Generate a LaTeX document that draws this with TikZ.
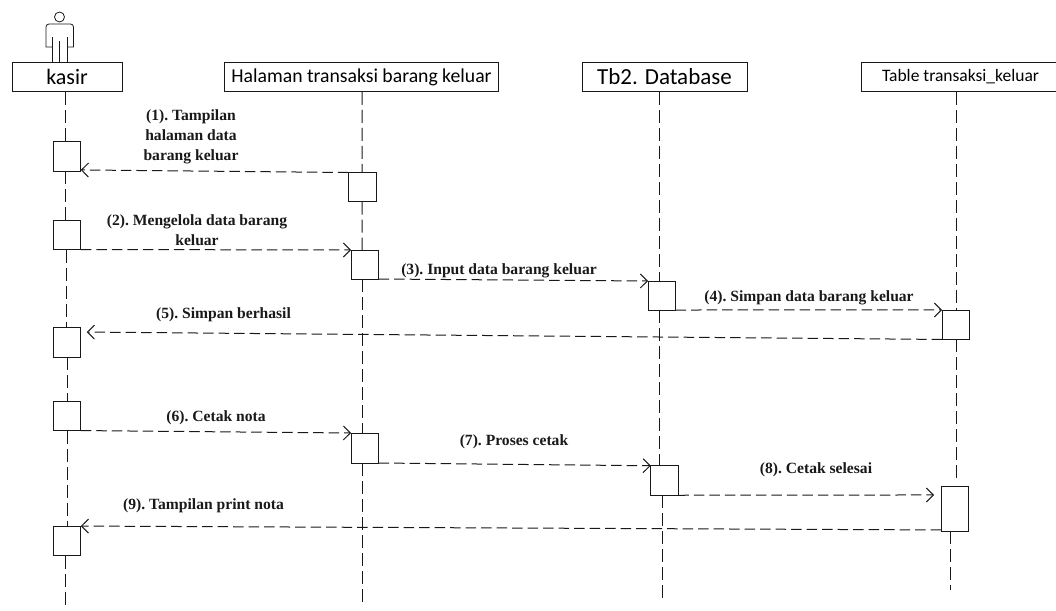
\documentclass[tikz,border=0pt]{standalone}
\usepackage{fontspec}
\setmainfont{Liberation Serif}
\newfontfamily\hdfont{Carlito}
\usetikzlibrary{arrows.meta,calc}
\definecolor{ink}{gray}{0.1}
\tikzset{
  x=1pt,y=-1pt,
  head/.style={draw=ink,line width=0.9pt,inner sep=0pt,outer sep=0pt,minimum height=29.5pt,text=black},
  act/.style={draw=ink,line width=0.9pt,fill=white,inner sep=0pt,outer sep=0pt,minimum width=27.5pt},
  life/.style={draw=ink,line width=1pt,dash pattern=on 13pt off 5pt},
  msg/.style={draw=ink,line width=1pt,dash pattern=on 10.5pt off 5pt,-{Straight Barb[length=7pt,width=14pt,line width=1pt]}},
  lbl/.style={font=\bfseries\frenchspacing\fontsize{15.6}{20}\selectfont,align=center,inner sep=0pt,text=ink,yshift=-1.7pt},
  fig/.style={ink,line width=0.8pt},
}
\begin{document}
\begin{tikzpicture}
\useasboundingbox (0,0) rectangle (1056,610);
% headers
\node[head,minimum width=110pt,font=\hdfont\fontsize{22}{26}\selectfont] (hk) at (67,77) {kasir};
\node[head,minimum width=274pt,font=\hdfont\fontsize{19.7}{24}\selectfont] (hh) at (361.5,77) {Halaman transaksi barang keluar};
\node[head,minimum width=165pt,font=\hdfont\fontsize{23}{26}\selectfont] (hd) at (664.5,77) {Tb2. Database};
\node[head,minimum width=199pt,font=\hdfont\fontsize{17.5}{20}\selectfont] (ht) at (960.5,77) {Table transaksi\_keluar};
% actor
\node[draw=ink,circle,line width=0.8pt,minimum size=10pt,inner sep=0pt,outer sep=0pt] (ah) at (59.5,17) {};
\coordinate (al) at (52,62);
\coordinate (ar) at (67.5,62);
\coordinate (ac) at (59.5,62);
\draw[fig] (al) -- (52,37);
\draw[fig] (52,47) -- (46,47) -- (46,27) to[out=90,in=180] (49,24) -- (70.5,24) to[out=0,in=90] (73.5,27) -- (73.5,47) -- (67.5,47);
\draw[fig] (ar) -- (67.5,37);
\draw[fig] (ac) -- (59.5,41);
% activations
\node[act,minimum height=29.5pt] (a1) at (67,156.2) {};
\node[act,minimum height=29pt] (a2) at (67,235) {};
\node[act,minimum height=29.5pt] (a5) at (67,342.5) {};
\node[act,minimum height=29.5pt] (a6) at (67,415.8) {};
\node[act,minimum height=29.5pt] (a9) at (67,540.8) {};
\node[act,minimum height=29pt] (b1) at (362.2,187) {};
\node[act,minimum height=29pt] (b2) at (364.8,264.5) {};
\node[act,minimum height=30pt] (b6) at (364.8,448) {};
\node[act,minimum height=29pt] (c3) at (661.8,295.5) {};
\node[act,minimum height=29.5pt] (c7) at (664.5,480.5) {};
\node[act,minimum height=29.5pt] (d4) at (955.8,324.7) {};
\node[act,minimum height=44.3pt] (d8) at (954.8,508.8) {};
% lifeline ends
\coordinate (ke) at (65,605);
\coordinate (he) at (362,602);
\coordinate (de) at (662,600);
\coordinate (te) at (950,590);
% lifelines
\draw[life] ([xshift=-2pt]hk.south) -- ([xshift=-2pt]a1.north);
\draw[life] ([xshift=-2pt]a1.south) -- ([xshift=-2pt]a2.north);
\draw[life] ([xshift=-1pt]a2.south) -- ([xshift=-1pt]a5.north);
\draw[life] (a5.south) -- (a6.north);
\draw[life] (a6.south) -- (a9.north);
\draw[life] ([xshift=-2pt]a9.south) -- (ke);
\draw[life] ([xshift=.5pt]hh.south) -- (b1.north);
\draw[life] (b1.south) -- ([xshift=-2.8pt]b2.north);
\draw[life] ([xshift=-2.8pt]b2.south) -- ([xshift=-2.8pt]b6.north);
\draw[life] ([xshift=-2.8pt]b6.south) -- (he);
\draw[life] ([xshift=-5.5pt]hd.south) -- ([xshift=-2.8pt]c3.north);
\draw[life] ([xshift=-2.8pt]c3.south) -- ([xshift=-5.5pt]c7.north);
\draw[life] ([xshift=-2.5pt]c7.south) -- (de);
\draw[life] ([xshift=-4.5pt]ht.south) -- ([xshift=.2pt]d4.north);
\draw[life] ([xshift=.2pt]d4.south) -- ([xshift=1.2pt,yshift=5pt]d8.north);
\draw[life] ([xshift=-4.8pt]d8.south) -- (te);
% messages
\draw[msg] (b1.north west) -- ([yshift=1pt]a1.south east);
\draw[msg] (a2.south east) -- (b2.north west);
\draw[msg] (b2.south east) -- (c3.north west);
\draw[msg] (c3.south east) -- (d4.north west);
\draw[msg] (d4.south west) -- ([xshift=6pt,yshift=-4.3pt]a5.north east);
\draw[msg] (a6.south east) -- (b6.north west);
\draw[msg] (b6.south east) -- (c7.north west);
\draw[msg] (c7.south east) -- ([xshift=-7pt,yshift=-8.3pt]d8.north west);
\draw[msg] ([yshift=1pt]d8.south west) -- (a9.north east);
% labels
\node[lbl] (l1) at (191,135) {(1). Tampilan\\halaman data\\barang keluar};
\node[lbl] (l2) at (197,228) {(2). Mengelola data barang\\keluar};
\node[lbl] (l3) at (499,269) {(3). Input data barang keluar};
\node[lbl] (l4) at (809,296) {(4). Simpan data barang keluar};
\node[lbl] (l5) at (223.5,313) {(5). Simpan berhasil};
\node[lbl] (l6) at (216,416) {(6). Cetak nota};
\node[lbl] (l7) at (514,440) {(7). Proses cetak};
\node[lbl] (l8) at (816,468) {(8). Cetak selesai};
\node[lbl] (l9) at (203.5,504) {(9). Tampilan print nota};
\end{tikzpicture}
\end{document}
